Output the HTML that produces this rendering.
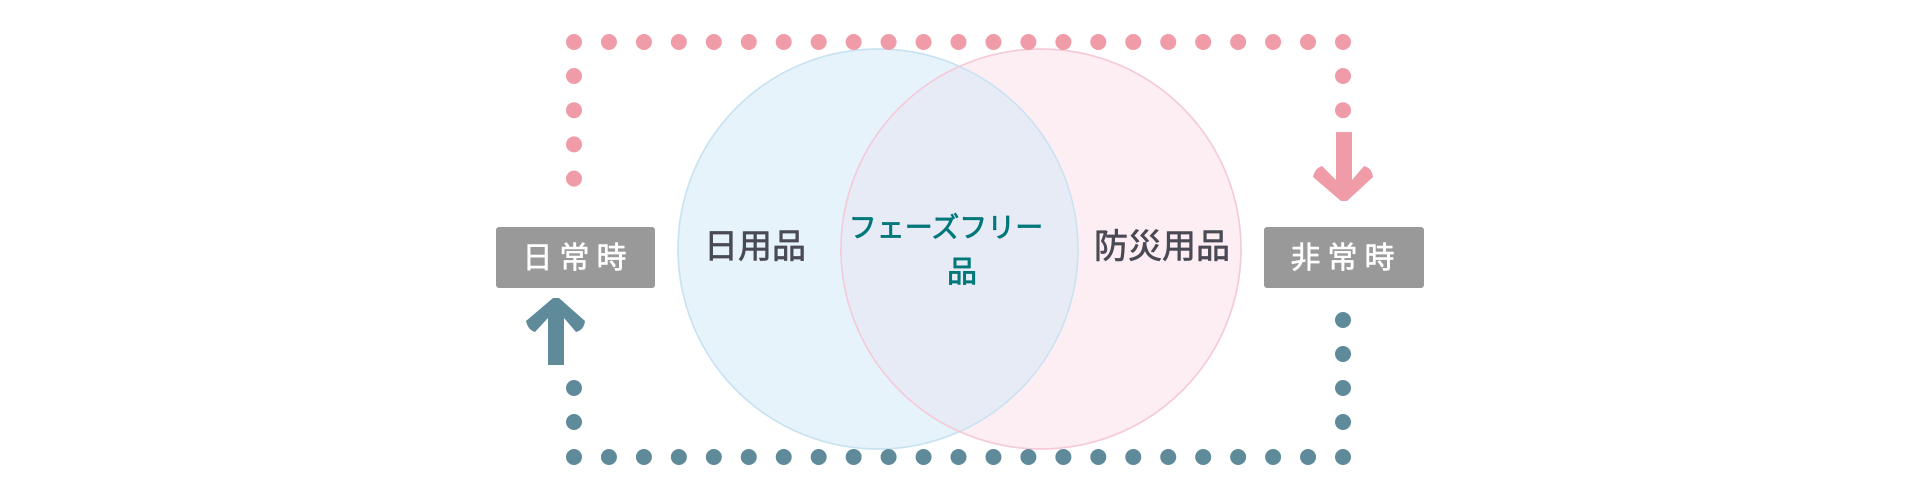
<!DOCTYPE html>
<html><head><meta charset="utf-8"><style>
html,body{margin:0;padding:0;background:#fff;}
svg{display:block}
text{font-family:"Liberation Sans","Noto Sans CJK JP",sans-serif;stroke-linejoin:round;}
</style></head><body>
<svg width="1920" height="500" viewBox="0 0 1920 500" xmlns="http://www.w3.org/2000/svg">
<circle cx="878" cy="249" r="200" fill="#e6f3fb" stroke="#c8e2f2" stroke-width="1.5"/>
<circle cx="1041" cy="249" r="200" fill="#fdeef3" stroke="#f5c9d8" stroke-width="1.5"/>
<clipPath id="c"><circle cx="878" cy="249" r="200"/></clipPath>
<circle cx="1041" cy="249" r="200" fill="#e6ebf5" clip-path="url(#c)"/>
<circle cx="878" cy="249" r="200" fill="none" stroke="#c8e2f2" stroke-width="1.5"/>
<circle cx="1041" cy="249" r="200" fill="none" stroke="#f5c9d8" stroke-width="1.5"/>
<g id="dots"></g>
<path d="M1336 132 H1352 V180 L1364 166 Q1372 168 1373 177 L1347 201 H1341 L1313 177 Q1315 168 1322 166 L1336 180 Z" fill="#f09ca8"/>
<path d="M548 365 H564 V318 L576 332 Q584 330 585 321 L559 298 H553 L526 321 Q528 330 535 332 L548 318 Z" fill="#5f8a99"/>
<rect x="496" y="227" width="159" height="61" rx="3" fill="#999"/>
<rect x="1264" y="227" width="160" height="61" rx="3" fill="#999"/>
<text x="578" y="268" font-size="30" fill="#fff" stroke="#fff" stroke-width="0.6" text-anchor="middle" letter-spacing="7">日常時</text>
<text x="1346" y="268" font-size="30" fill="#fff" stroke="#fff" stroke-width="0.6" text-anchor="middle" letter-spacing="7">非常時</text>
<text x="755" y="258" font-size="34" fill="#4a4a55" stroke="#4a4a55" stroke-width="0.7" text-anchor="middle">日用品</text>
<text x="1162" y="258" font-size="34" fill="#4a4a55" stroke="#4a4a55" stroke-width="0.7" text-anchor="middle">防災用品</text>
<text x="946" y="237" font-size="28" fill="#00787a" stroke="#00787a" stroke-width="0.8" text-anchor="middle">フェーズフリー</text>
<text x="962" y="282" font-size="30" fill="#00787a" stroke="#00787a" stroke-width="0.8" text-anchor="middle">品</text>
<script>
var ns="http://www.w3.org/2000/svg",g=document.getElementById("dots");
function d(x,y,c){var e=document.createElementNS(ns,"circle");e.setAttribute("cx",x);e.setAttribute("cy",y);e.setAttribute("r",8);e.setAttribute("fill",c);g.appendChild(e);}
var P="#f09ca8",B="#5f8a99";
for(var i=0;i<=22;i++){var x=574+i*(1343-574)/22;d(x,42,P);d(x,457,B);}
for(var y=42+34;y<=180;y+=34.2)d(574,y,P);
for(var y=42+34;y<=112;y+=34.2)d(1343,y,P);
d(574,388,B);d(574,422,B);
d(1343,320,B);d(1343,354,B);d(1343,388,B);d(1343,422,B);
</script>
</svg>
</body></html>
